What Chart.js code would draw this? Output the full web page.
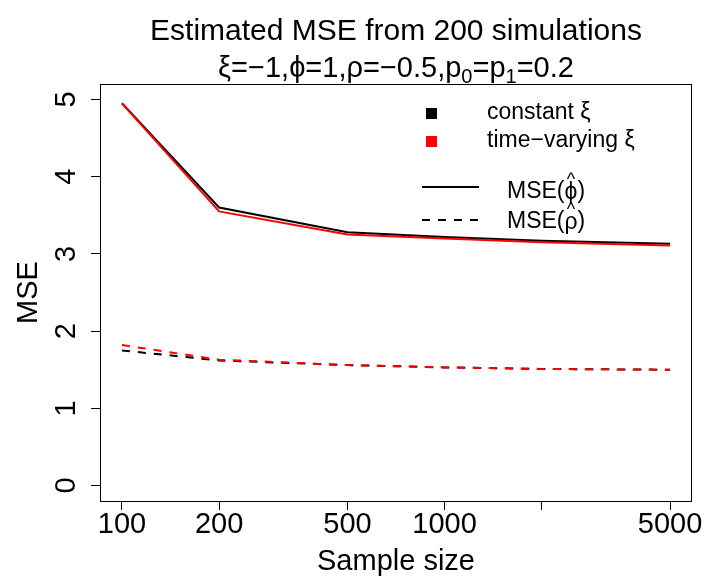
<!DOCTYPE html>
<html>
<head>
<meta charset="utf-8">
<script src="https://cdn.jsdelivr.net/npm/chart.js@4.4.1/dist/chart.umd.min.js"></script>
<style>
  html, body { margin: 0; padding: 0; background: #fff; }
  #wrap { width: 708px; height: 582px; }
</style>
</head>
<body>
<div id="wrap"><canvas id="mse-chart" width="708" height="582"></canvas></div>
<script>
// data
const sampleSizes = [100, 200, 500, 1000, 2000, 5000];
const phiConstant = [4.95, 3.60, 3.28, 3.22, 3.17, 3.13];
const phiVarying  = [4.95, 3.55, 3.25, 3.20, 3.15, 3.11];
const rhoConstant = [1.75, 1.62, 1.56, 1.53, 1.51, 1.50];
const rhoVarying  = [1.82, 1.63, 1.56, 1.53, 1.51, 1.50];

const xTicks = [100, 200, 500, 1000, 2000, 5000];
const xTickLabels = ["100", "200", "500", "1000", "", "5000"];
const yTicks = [0, 1, 2, 3, 4, 5];

const FONT = "'Liberation Sans', Arial, Helvetica, sans-serif";

function pts(ys) {
  return sampleSizes.map((x, i) => ({ x: x, y: ys[i] }));
}

// plot frame (R draws a box round the plot region)
const boxPlugin = {
  id: "box",
  afterDraw(chart) {
    const a = chart.chartArea, ctx = chart.ctx;
    ctx.save();
    ctx.strokeStyle = "#000";
    ctx.lineWidth = 1;
    ctx.strokeRect(a.left + 0.5, a.top + 0.5, a.right - a.left - 1, a.bottom - a.top);
    ctx.restore();
  }
};

// two line title, second line with subscripts
const titlePlugin = {
  id: "rtitle",
  afterDraw(chart) {
    const ctx = chart.ctx, a = chart.chartArea;
    const cx = (a.left + a.right) / 2;
    ctx.save();
    ctx.fillStyle = "#000";
    ctx.textBaseline = "alphabetic";
    ctx.font = "30px " + FONT;
    ctx.textAlign = "center";
    ctx.fillText("Estimated MSE from 200 simulations", cx, 40);

    const parts = [
      ["ξ=−1,ϕ=1,ρ=−0.5,p", false],
      ["0", true],
      ["=p", false],
      ["1", true],
      ["=0.2", false]
    ];
    const big = "29px " + FONT, small = "20px " + FONT;
    let total = 0;
    parts.forEach(p => { ctx.font = p[1] ? small : big; total += ctx.measureText(p[0]).width; });
    let x = cx - total / 2;
    ctx.textAlign = "left";
    parts.forEach(p => {
      ctx.font = p[1] ? small : big;
      ctx.fillText(p[0], x, p[1] ? 83 : 77);
      x += ctx.measureText(p[0]).width;
    });
    ctx.restore();
  }
};

// legend in the top right corner
const legendPlugin = {
  id: "rlegend",
  afterDraw(chart) {
    const ctx = chart.ctx;
    ctx.save();
    ctx.font = "23px " + FONT;
    ctx.textBaseline = "middle";
    ctx.textAlign = "left";

    ctx.fillStyle = "#000";
    ctx.fillRect(426, 108, 11, 11);
    ctx.fillText("constant ξ", 487, 113);
    ctx.fillStyle = "#ff0000";
    ctx.fillRect(426, 136, 11, 11);
    ctx.fillStyle = "#000";
    ctx.fillText("time−varying ξ", 487, 141);

    ctx.strokeStyle = "#000";
    ctx.lineWidth = 2;
    ctx.beginPath(); ctx.moveTo(422, 187); ctx.lineTo(479, 187); ctx.stroke();
    ctx.setLineDash([8, 8]);
    ctx.beginPath(); ctx.moveTo(422, 220); ctx.lineTo(479, 220); ctx.stroke();
    ctx.setLineDash([]);

    function hatLabel(sym, y) {
      let x = 507;
      ctx.fillText("MSE(", x, y);
      x += ctx.measureText("MSE(").width;
      const w = ctx.measureText(sym).width;
      ctx.fillText(sym, x, y + 1);
      ctx.save();
      ctx.font = "18px " + FONT;
      ctx.textAlign = "center";
      ctx.fillText("^", x + w / 2, y - 12);
      ctx.restore();
      x += w;
      ctx.fillText(")", x, y);
    }
    hatLabel("ϕ", 192);
    hatLabel("ρ", 222);
    ctx.restore();
  }
};

new Chart(document.getElementById("mse-chart"), {
  type: "line",
  data: {
    datasets: [
      { label: "MSE(phi) time-varying", data: pts(phiVarying), borderColor: "#ff0000", borderWidth: 2 },
      { label: "MSE(rho) time-varying", data: pts(rhoVarying), borderColor: "#ff0000", borderWidth: 2, borderDash: [8, 8] },
      { label: "MSE(phi) constant", data: pts(phiConstant), borderColor: "#000000", borderWidth: 2 },
      { label: "MSE(rho) constant", data: pts(rhoConstant), borderColor: "#000000", borderWidth: 2, borderDash: [8, 8] }
    ]
  },
  options: {
    responsive: false,
    animation: false,
    events: [],
    elements: { point: { radius: 0 }, line: { tension: 0, fill: false } },
    layout: { padding: { top: 84, right: 16, bottom: 0, left: 0 } },
    plugins: {
      legend: { display: false },
      title: { display: false },
      tooltip: { enabled: false }
    },
    scales: {
      x: {
        type: "logarithmic",
        min: 85.5,
        max: 5846,
        afterBuildTicks(scale) { scale.ticks = xTicks.map(v => ({ value: v })); },
        afterFit(scale) { scale.height = 81; },
        ticks: {
          autoSkip: false,
          maxRotation: 0,
          minRotation: 0,
          padding: 0,
          color: "#000",
          font: { family: FONT, size: 29, lineHeight: 1 },
          callback(value) { return xTickLabels[xTicks.indexOf(value)]; }
        },
        grid: { drawOnChartArea: false, drawTicks: true, tickLength: 9, color: "#000" },
        border: { display: false },
        title: {
          display: true,
          text: "Sample size",
          color: "#000",
          font: { family: FONT, size: 29, lineHeight: 1 },
          padding: { top: 0, bottom: 6 }
        }
      },
      y: {
        min: -0.2,
        max: 5.2,
        afterBuildTicks(scale) { scale.ticks = yTicks.map(v => ({ value: v })); },
        afterFit(scale) { scale.width = 100; },
        ticks: {
          minRotation: 90,
          maxRotation: 90,
          crossAlign: "center",
          padding: 16,
          color: "#000",
          font: { family: FONT, size: 29, lineHeight: 1 }
        },
        grid: { drawOnChartArea: false, drawTicks: true, tickLength: 9, color: "#000" },
        border: { display: false },
        title: {
          display: true,
          text: "MSE",
          color: "#000",
          font: { family: FONT, size: 29, lineHeight: 1 },
          padding: { top: 14, bottom: 0 }
        }
      }
    }
  },
  plugins: [boxPlugin, titlePlugin, legendPlugin]
});
</script>
</body>
</html>
